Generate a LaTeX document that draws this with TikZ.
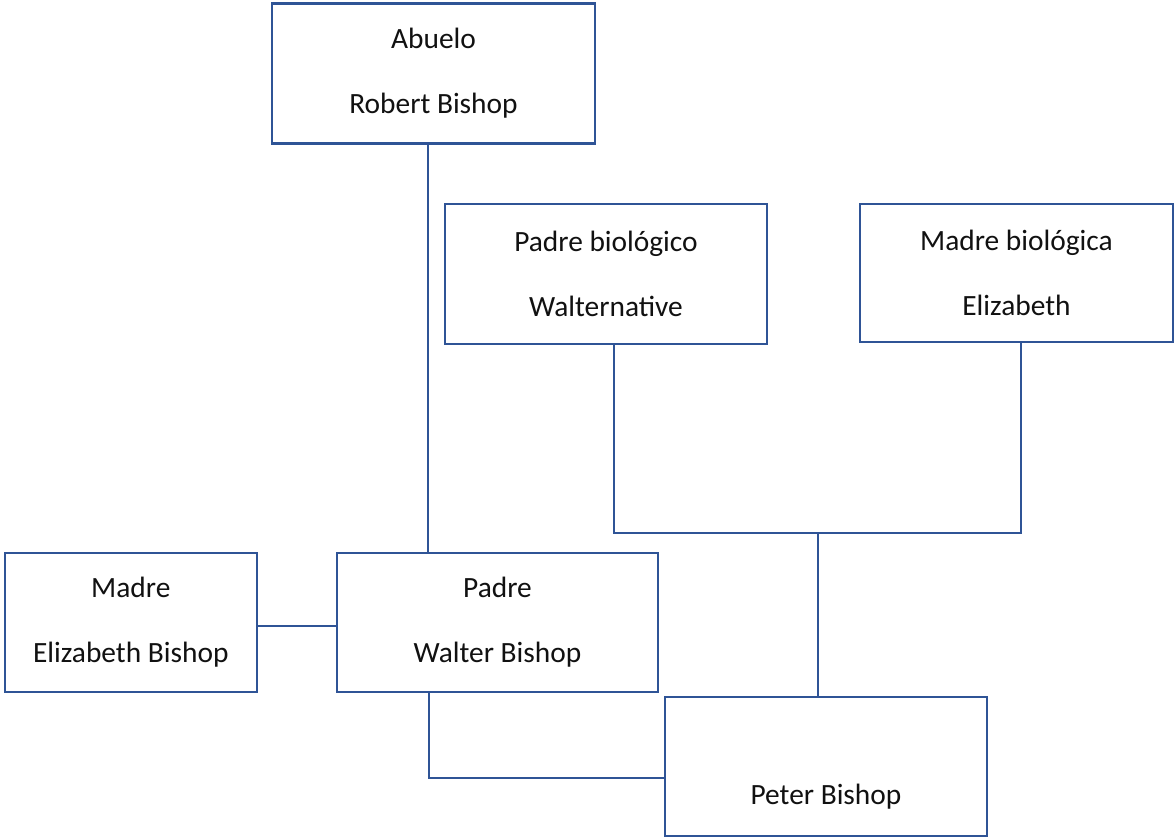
\documentclass[tikz,border=0pt]{standalone}
\usepackage{fontspec}
\setmainfont{Carlito}
\usepackage{xcolor}
\usepackage{tikz}
\usetikzlibrary{positioning, calc}
\definecolor{linea}{HTML}{2F5496}
\definecolor{texto}{HTML}{111111}
\tikzstyle{persona} = [rectangle, draw=linea, line width=1.1pt, fill=white, inner sep=0pt, minimum width=161pt, minimum height=70pt, align=center, text=texto, font=\fontsize{14.7}{18}\selectfont]
\tikzstyle{enlace} = [draw=linea, line width=1.1pt]

\begin{document}
\begin{tikzpicture}[x=0.5pt, y=-0.5pt]
    \useasboundingbox (0,0) rectangle (1175,838);

    % Abuelo
    \node (abuelo) [persona, minimum width=161.5pt] at (433.5,73.5) {Abuelo\\[14.5pt]Robert Bishop};

    % Padres biologicos
    \node (padrebio) [persona] at (606,274) {Padre biológico\\[14.5pt]Walternative};
    \node (madrebio) [persona, minimum width=156.5pt, minimum height=69pt] at (1016.5,273) {Madre biológica\\[14.5pt]Elizabeth};

    % Padres
    \node (padre) [persona, minimum width=160.5pt, minimum height=69.5pt] at (497.5,622.5) {Padre\\[14.5pt]Walter Bishop};
    \node (madre) [persona, left=39pt of padre, minimum width=126pt, minimum height=69.5pt] {Madre\\[14.5pt]Elizabeth Bishop};

    % Hijo
    \node (peter) [persona, minimum height=69.5pt] at (826,766.5) {\mbox{}\\[22.5pt]Peter Bishop};

    % Lineas
    \draw [enlace] ([xshift=-2.75pt]abuelo.south) coordinate (a) -- (a |- padre.north);
    \draw [enlace] ([yshift=-1.75pt]madre.east) -- ([yshift=-1.75pt]padre.west);
    \coordinate (union) at (818,533);
    \draw [enlace] ([xshift=4pt]padrebio.south) |- (union) -| ([xshift=2.25pt]madrebio.south);
    \draw [enlace] (union) -- (union |- peter.north);
    \draw [enlace] ([xshift=-34.25pt]padre.south) |- ([yshift=-5.75pt]peter.west);

\end{tikzpicture}
\end{document}
